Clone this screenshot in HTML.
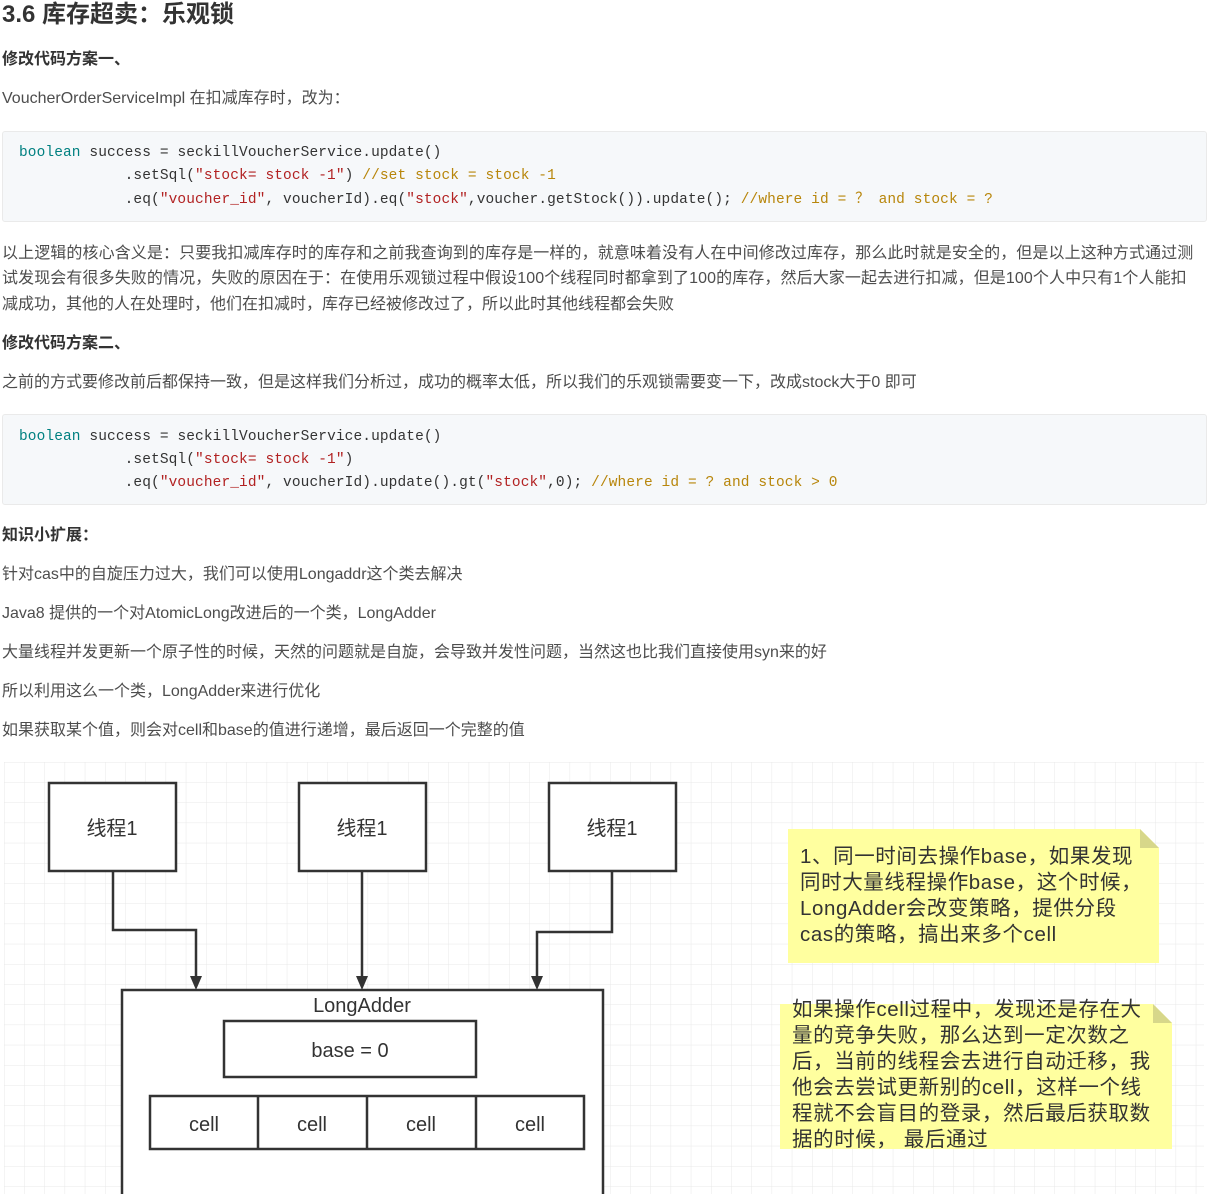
<!DOCTYPE html>
<html><head><meta charset="utf-8"><style>
body{margin:0;width:1216px;height:1194px;background:#fff;position:relative;overflow:hidden;font-family:"Liberation Sans","Noto Sans CJK SC",sans-serif;color:#4d4d4d}
.t{position:absolute;left:2px;font-size:16px;white-space:nowrap;line-height:20px}
.b{font-weight:bold;color:#333}
.code{position:absolute;left:2px;width:1203px;background:#f6f8fa;border:1px solid #eaeaea;border-radius:3px}
.cl{position:absolute;left:16px;font-family:"Liberation Mono",monospace;font-size:14.5px;letter-spacing:0.1px;white-space:pre;color:#333;line-height:20px}
.k{color:#008080}.s{color:#b22222}.c{color:#b8860b}
.note{position:absolute;font-size:20.5px;letter-spacing:0.6px;line-height:26px;color:#333;white-space:nowrap;font-family:"Liberation Sans","Noto Sans CJK SC",sans-serif}
</style></head><body>
<div class="t b" style="top:2px;font-size:24px;line-height:26px">3.6 库存超卖：乐观锁</div>
<div class="t b" style="top:50px">修改代码方案一、</div>
<div class="t" style="top:89px">VoucherOrderServiceImpl 在扣减库存时，改为：</div>
<div class="code" style="top:131px;height:89px">
<div class="cl" style="top:11px"><span class="k">boolean</span> success = seckillVoucherService.update()</div>
<div class="cl" style="top:34px">            .setSql(<span class="s">"stock= stock -1"</span>) <span class="c">//set stock = stock -1</span></div>
<div class="cl" style="top:58px">            .eq(<span class="s">"voucher_id"</span>, voucherId).eq(<span class="s">"stock"</span>,voucher.getStock()).update(); <span class="c">//where id = ？ and stock = ?</span></div>
</div>
<div class="t" style="top:244px;letter-spacing:0.1px">以上逻辑的核心含义是：只要我扣减库存时的库存和之前我查询到的库存是一样的，就意味着没有人在中间修改过库存，那么此时就是安全的，但是以上这种方式通过测</div>
<div class="t" style="top:269px;letter-spacing:0.1px">试发现会有很多失败的情况，失败的原因在于：在使用乐观锁过程中假设100个线程同时都拿到了100的库存，然后大家一起去进行扣减，但是100个人中只有1个人能扣</div>
<div class="t" style="top:295px">减成功，其他的人在处理时，他们在扣减时，库存已经被修改过了，所以此时其他线程都会失败</div>
<div class="t b" style="top:334px">修改代码方案二、</div>
<div class="t" style="top:373px">之前的方式要修改前后都保持一致，但是这样我们分析过，成功的概率太低，所以我们的乐观锁需要变一下，改成stock大于0 即可</div>
<div class="code" style="top:414px;height:89px">
<div class="cl" style="top:12px"><span class="k">boolean</span> success = seckillVoucherService.update()</div>
<div class="cl" style="top:35px">            .setSql(<span class="s">"stock= stock -1"</span>)</div>
<div class="cl" style="top:58px">            .eq(<span class="s">"voucher_id"</span>, voucherId).update().gt(<span class="s">"stock"</span>,0); <span class="c">//where id = ? and stock &gt; 0</span></div>
</div>
<div class="t b" style="top:526px">知识小扩展：</div>
<div class="t" style="top:565px">针对cas中的自旋压力过大，我们可以使用Longaddr这个类去解决</div>
<div class="t" style="top:604px">Java8 提供的一个对AtomicLong改进后的一个类，LongAdder</div>
<div class="t" style="top:643px">大量线程并发更新一个原子性的时候，天然的问题就是自旋，会导致并发性问题，当然这也比我们直接使用syn来的好</div>
<div class="t" style="top:682px">所以利用这么一个类，LongAdder来进行优化</div>
<div class="t" style="top:721px">如果获取某个值，则会对cell和base的值进行递增，最后返回一个完整的值</div>
<svg style="position:absolute;left:0;top:760px" width="1216" height="434">
<defs><pattern id="g" width="20.2" height="20.2" patternUnits="userSpaceOnUse" x="4" y="2"><path d="M0 0H20.2M0 0V20.2" stroke="#e8e8e8" stroke-width="1" fill="none"/></pattern></defs>
<rect x="4" y="2" width="1200" height="432" fill="url(#g)"/>
<g stroke="#333" stroke-width="2.5" fill="#fff">
<rect x="49" y="23" width="127" height="88"/><rect x="299" y="23" width="127" height="88"/><rect x="549" y="23" width="127" height="88"/>
<rect x="122" y="230" width="481" height="210"/>
<rect x="224" y="261" width="252" height="56"/>
<rect x="150" y="336" width="434" height="53"/>
<path d="M258 336V389M367 336V389M476 336V389"/>
<path d="M113 111V170H196V222M362 111V222M612 111V172H537V222" fill="none"/>
</g>
<g fill="#333"><path d="M190 216h12l-6 14z"/><path d="M356 216h12l-6 14z"/><path d="M531 216h12l-6 14z"/></g>
<g font-size="20" fill="#333" text-anchor="middle" font-family="Liberation Sans,Noto Sans CJK SC,sans-serif">
<text x="112" y="75">线程1</text><text x="362" y="75">线程1</text><text x="612" y="75">线程1</text>
<text x="362" y="252">LongAdder</text><text x="350" y="297">base = 0</text>
<text x="204" y="371">cell</text><text x="312" y="371">cell</text><text x="421" y="371">cell</text><text x="530" y="371">cell</text>
</g>
<path d="M788 69H1140L1159 88V203H788Z" fill="#ffff9f"/><path d="M1140 69L1159 88H1140Z" fill="#d7d78a"/>
<path d="M780 244H1153L1172 263V389H780Z" fill="#ffff9f"/><path d="M1153 244L1172 263H1153Z" fill="#d7d78a"/>
</svg>
<div class="note" style="left:800px;top:844px">1、同一时间去操作base，如果发现<br>同时大量线程操作base，这个时候，<br>LongAdder会改变策略，提供分段<br>cas的策略，搞出来多个cell</div>
<div class="note" style="left:792px;top:997px">如果操作cell过程中，发现还是存在大<br>量的竞争失败，那么达到一定次数之<br>后，当前的线程会去进行自动迁移，我<br>他会去尝试更新别的cell，这样一个线<br>程就不会盲目的登录，然后最后获取数<br>据的时候， 最后通过</div>
</body></html>
